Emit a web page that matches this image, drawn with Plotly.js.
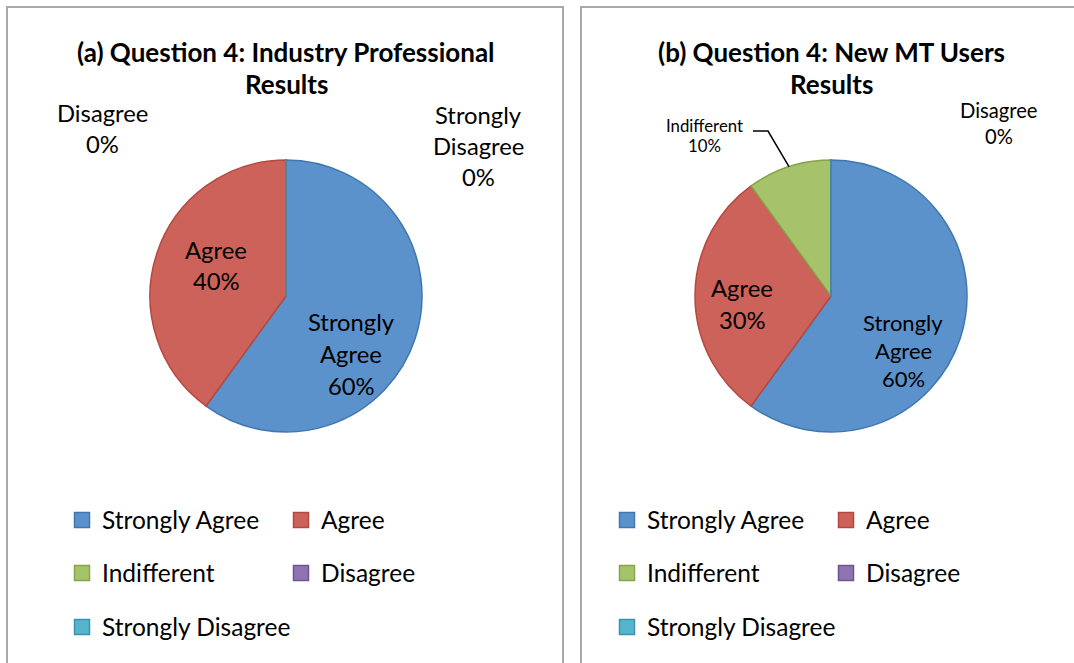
<!DOCTYPE html>
<html><head><meta charset="utf-8">
<script src="https://cdn.plot.ly/plotly-3.0.1.min.js"></script>
<style>html,body{margin:0;padding:0;background:#fff;overflow:hidden}#chart{width:1074px;height:663px}</style>
</head><body><div id="chart"></div>
<script>
// ---- data ----
const categories = ['Strongly Agree', 'Agree', 'Indifferent', 'Disagree', 'Strongly Disagree'];
const industryValues = [60, 40, 0, 0, 0];
const newUserValues = [60, 30, 10, 0, 0];
const titleA = ['(a) Question 4: Industry Professional', 'Results'];
const titleB = ['(b) Question 4: New MT Users', 'Results'];

// ---- styles ----
const fills = ['#5B92CB', '#CD625B', '#A6C36B', '#8E74B0', '#55B5CE'];
const edges = ['#4177B0', '#B5493F', '#86A548', '#6D558F', '#3B94AC'];
const W = 1074, H = 663;
const FONT = 'Lato, Carlito, Calibri, sans-serif';
const px = v => v / W;
const py = v => 1 - v / H;

// panel geometry (pixels)
const panels = [
  {values: industryValues, title: titleA, cx: 286, cy: 296, r: 136,
   legendIds: ['legend', 'legend2', 'legend3'], legendX: 62, colW: 219,
   labels: {
     'Strongly Agree': {x: 351, y: 354, size: 23.8, gap: 32},
     'Agree': {x: 216, y: 265, size: 23.8, gap: 31},
     'Disagree': {x: 102, y: 128, size: 23.8, gap: 31},
     'Strongly Disagree': {x: 478, y: 146, size: 23.8, gap: 31.5}
   }},
  {values: newUserValues, title: titleB, cx: 831, cy: 296, r: 136,
   legendIds: ['legend4', 'legend5', 'legend6'], legendX: 607, colW: 219,
   labels: {
     'Strongly Agree': {x: 903, y: 350, size: 22, gap: 28},
     'Agree': {x: 742, y: 304, size: 23.8, gap: 32},
     'Indifferent': {x: 705, y: 135, size: 16.8, gap: 20, leader: [[753, 131], [768, 131]]},
     'Disagree': {x: 999, y: 123, size: 20.2, gap: 26}
   }}
];
const legendRowsY = [520, 573, 627];
const rowOf = i => (i < 2 ? 0 : i < 4 ? 1 : 2);

const traces = [];
const annotations = [];
const shapes = [];
const layout = {
  width: W, height: H,
  margin: {l: 0, r: 0, t: 0, b: 0},
  paper_bgcolor: '#ffffff', plot_bgcolor: 'rgba(0,0,0,0)',
  font: {family: FONT, color: '#000'},
  xaxis: {visible: false}, yaxis: {visible: false},
  showlegend: true
};

// panel frames
shapes.push({type: 'rect', xref: 'paper', yref: 'paper', x0: px(7), x1: px(563), y0: -0.2, y1: py(7),
  line: {color: '#A9A9A9', width: 2}, fillcolor: 'rgba(0,0,0,0)', layer: 'below'});
shapes.push({type: 'rect', xref: 'paper', yref: 'paper', x0: px(581), x1: 1.2, y0: -0.2, y1: py(7),
  line: {color: '#A9A9A9', width: 2}, fillcolor: 'rgba(0,0,0,0)', layer: 'below'});

function lineAnnots(lines, x, yCenter, size, gap, bold) {
  const n = lines.length;
  lines.forEach((t, k) => {
    const y = yCenter + (k - (n - 1) / 2) * gap;
    annotations.push({xref: 'paper', yref: 'paper', x: px(x), y: py(y), xanchor: 'center', yanchor: 'middle',
      text: bold ? '<b>' + t + '</b>' : t, showarrow: false, font: {family: FONT, size: size, color: '#000'}});
  });
}

panels.forEach((p, pi) => {
  const total = p.values.reduce((a, b) => a + b, 0);
  traces.push({
    type: 'pie', labels: categories, values: p.values, sort: false, direction: 'clockwise', rotation: 0,
    domain: {x: [px(p.cx - p.r), px(p.cx + p.r)], y: [py(p.cy + p.r), py(p.cy - p.r)]},
    marker: {colors: fills, line: {color: edges, width: 1.5}},
    textinfo: 'none', hoverinfo: 'label+percent', showlegend: false
  });
  // title
  lineAnnots(p.title, p.cx, 68, 26, 32, true);
  // data labels
  let cum = 0;
  categories.forEach((c, i) => {
    const v = p.values[i];
    const mid = (cum + v / 2) / total;
    cum += v;
    const spec = p.labels[c];
    if (!spec) return;
    const pct = Math.round(v / total * 100) + '%';
    const words = c.split(' ');
    const lines = words.concat([pct]);
    lineAnnots(lines, spec.x, spec.y, spec.size, spec.gap, false);
    if (spec.leader) {
      const ang = mid * 2 * Math.PI;
      const ex = p.cx + p.r * Math.sin(ang), ey = p.cy - p.r * Math.cos(ang);
      const pts = spec.leader.concat([[ex, ey]]);
      shapes.push({type: 'path', xref: 'paper', yref: 'paper',
        path: pts.map((q, k) => (k ? 'L' : 'M') + px(q[0]) + ',' + py(q[1])).join(' '),
        line: {color: '#000', width: 1.5}});
    }
  });
  // legends (one per row)
  p.legendIds.forEach((id, row) => {
    layout[id] = {orientation: 'h', x: px(p.legendX), y: py(legendRowsY[row]), xanchor: 'left', yanchor: 'middle',
      entrywidth: row === 2 ? 260 : p.colW - 45, entrywidthmode: 'pixels', bgcolor: 'rgba(0,0,0,0)',
      font: {family: FONT, size: 24.5, color: '#000'}, itemclick: false, itemdoubleclick: false};
  });
  categories.forEach((c, i) => {
    traces.push({type: 'scatter', x: [null], y: [null], mode: 'markers', name: c,
      legend: p.legendIds[rowOf(i)], hoverinfo: 'skip',
      marker: {symbol: 'square', size: 15, color: fills[i], line: {color: edges[i], width: 1.5}}});
  });
});

layout.annotations = annotations;
layout.shapes = shapes;
Plotly.newPlot('chart', traces, layout, {displayModeBar: false, staticPlot: true});
</script>
</body></html>
